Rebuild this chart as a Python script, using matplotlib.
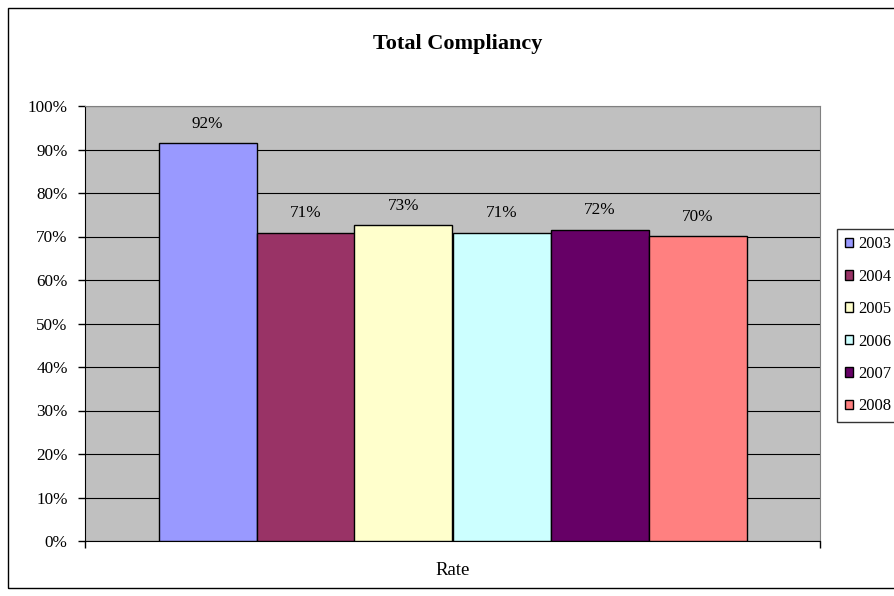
import matplotlib.pyplot as plt
from matplotlib.patches import Rectangle

plt.rcParams['font.family'] = ['Liberation Serif', 'DejaVu Serif']

# --- data ---
years = ['2003', '2004', '2005', '2006', '2007', '2008']
rates = [0.915, 0.709, 0.727, 0.709, 0.716, 0.702]
colors = ['#9999FF', '#993366', '#FFFFCC', '#CCFFFF', '#660066', '#FF8080']
category = 'Rate'
y_ticks = [i / 10 for i in range(11)]
y_tick_labels = [f'{i * 10}%' for i in range(11)]

fig = plt.figure(figsize=(8.94, 5.96), dpi=100)

# outer chart border (Excel chart area)
fig.patches.append(Rectangle((8 / 894, 1 - 588 / 596), 1.0, 580 / 596,
                             transform=fig.transFigure, fill=False,
                             edgecolor='black', linewidth=1.0))

ax = fig.add_axes([85 / 894, 1 - 541 / 596, 735 / 894, 435 / 596])
ax.set_facecolor('#C0C0C0')
ax.set_xlim(0, 1)
ax.set_ylim(0, 1)

# bars, grouped in the middle 80% of the category
group_w = 0.8
bar_w = group_w / len(years)
start = 0.5 - group_w / 2
for i, (yr, val, col) in enumerate(zip(years, rates, colors)):
    x = start + bar_w * (i + 0.5)
    bars = ax.bar(x, val, width=bar_w, color=col, edgecolor='black',
                  linewidth=1.0, label=yr, zorder=3)
    ax.bar_label(bars, labels=[f'{int(val * 100 + 0.5):d}%'], padding=8,
                 fontsize=12.3)

# gridlines
ax.set_yticks(y_ticks, y_tick_labels, fontsize=12.3)
ax.yaxis.grid(True, color='black', linewidth=0.8, zorder=1)
ax.set_axisbelow(True)
ax.tick_params(axis='y', direction='out', length=5, width=1, pad=7.5)

ax.set_xticks([0, 1], ['', ''])
ax.set_xticks([0.5], [category], minor=True)
ax.tick_params(axis='x', which='major', direction='out', length=5, width=1)
ax.tick_params(axis='x', which='minor', length=0, pad=15, labelsize=13.5)

for side in ['top', 'right']:
    ax.spines[side].set_color('#808080')
    ax.spines[side].set_linewidth(0.8)
ax.spines['left'].set_color('black')
ax.spines['bottom'].set_color('black')

fig.text(458 / 894, 1 - 44 / 596, 'Total Compliancy', ha='center', va='center',
         fontsize=16, fontweight='bold')

leg = fig.legend(loc='upper left', bbox_to_anchor=(837 / 894, 1 - 229 / 596),
                 fontsize=12, frameon=True, fancybox=False, edgecolor='black',
                 handlelength=0.5, handleheight=0.5, handletextpad=0.3,
                 labelspacing=0.98, borderpad=0.45, borderaxespad=0)
leg.get_frame().set_linewidth(1.0)

fig.savefig('out.png', dpi=100)
